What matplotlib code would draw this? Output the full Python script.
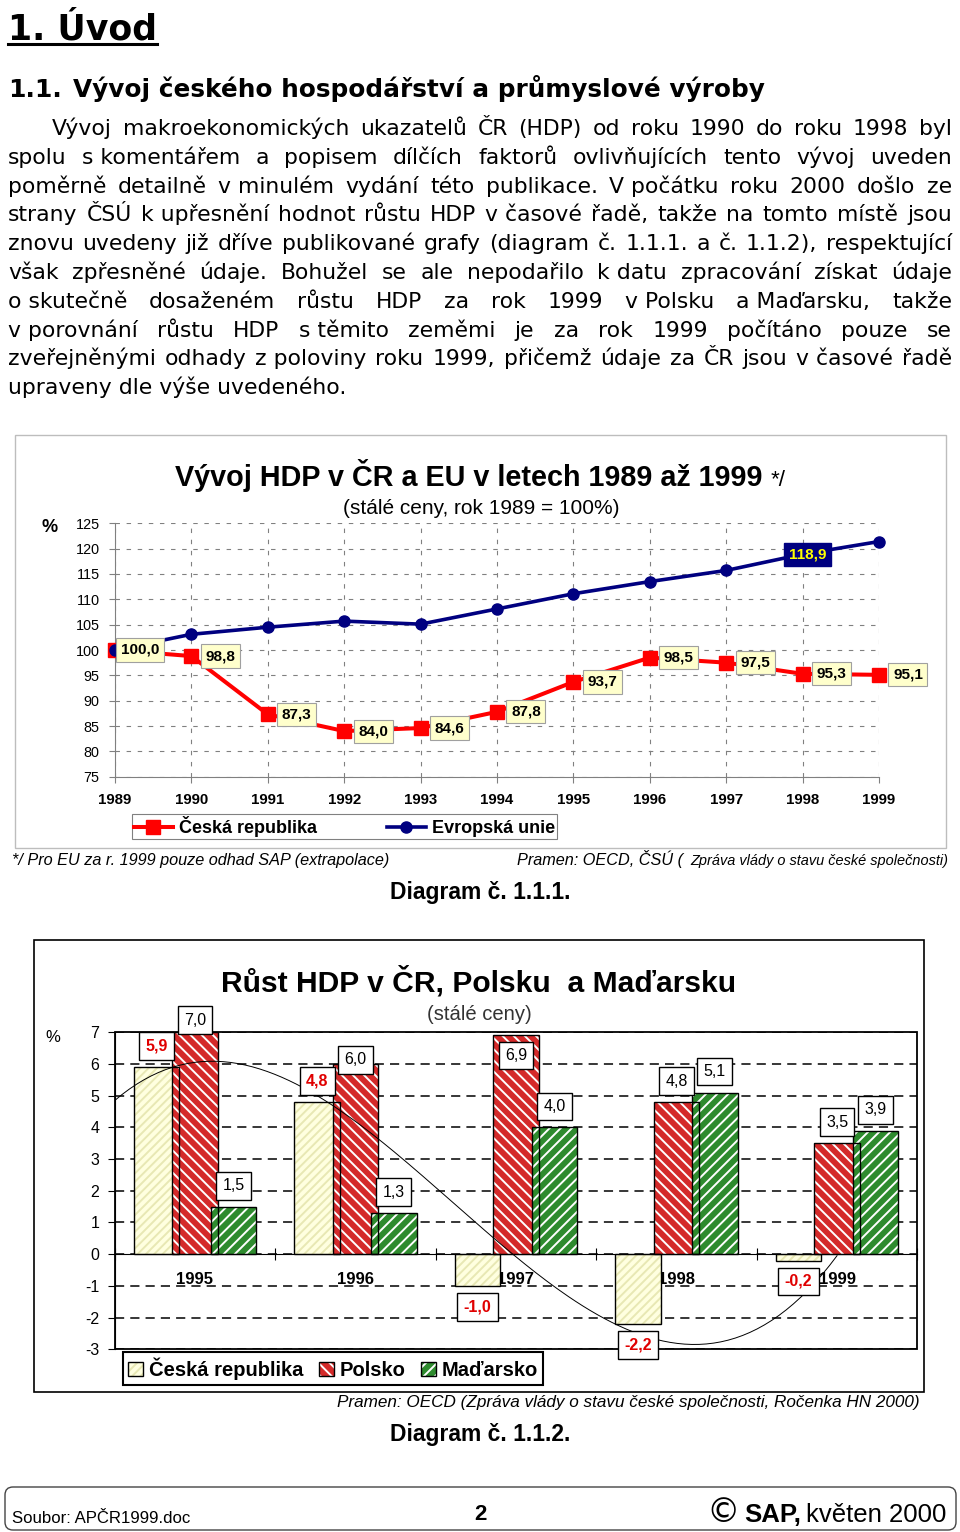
"""Page 2 of APČR1999: intro text, HDP index chart and growth bar chart."""

import numpy as np
import matplotlib
matplotlib.use("Agg")
import matplotlib.pyplot as plt
from matplotlib.patches import Patch, Rectangle, FancyBboxPatch
from matplotlib.legend_handler import HandlerTuple

plt.rcParams["font.family"] = "Liberation Sans"
plt.rcParams["axes.unicode_minus"] = False
plt.rcParams["hatch.linewidth"] = 1.4

BODY = "DejaVu Sans"

# --- Diagram 1.1.1: HDP index, 1989 = 100 ---
years = [1989, 1990, 1991, 1992, 1993, 1994, 1995, 1996, 1997, 1998, 1999]
cz_index = [100.0, 98.8, 87.3, 84.0, 84.6, 87.8, 93.7, 98.5, 97.5, 95.3, 95.1]
eu_index = [100.0, 103.1, 104.5, 105.7, 105.1, 108.1, 111.1, 113.5, 115.7, 118.9, 121.4]
eu_labelled_year = 1998

# --- Diagram 1.1.2: annual HDP growth ---
growth_years = ["1995", "1996", "1997", "1998", "1999"]
growth_cz = [5.9, 4.8, -1.0, -2.2, -0.2]
growth_pl = [7.0, 6.0, 6.9, 4.8, 3.5]
growth_hu = [1.5, 1.3, 4.0, 5.1, 3.9]
growth_names = ["Česká republika", "Polsko", "Maďarsko"]

# paragraph, line by line as in the document (bound one-letter words kept together)
NB = "\u00a0"
paragraph = [
    ["Vývoj", "makroekonomických", "ukazatelů", "ČR", "(HDP)", "od", "roku", "1990", "do", "roku", "1998", "byl"],
    ["spolu", "s" + NB + "komentářem", "a", "popisem", "dílčích", "faktorů", "ovlivňujících", "tento", "vývoj", "uveden"],
    ["poměrně", "detailně", "v" + NB + "minulém", "vydání", "této", "publikace.", "V" + NB + "počátku", "roku", "2000", "došlo", "ze"],
    ["strany", "ČSÚ", "k" + NB + "upřesnění", "hodnot", "růstu", "HDP", "v" + NB + "časové", "řadě,", "takže", "na", "tomto", "místě", "jsou"],
    ["znovu", "uvedeny", "již", "dříve", "publikované", "grafy", "(diagram", "č.", "1.1.1.", "a", "č.", "1.1.2),", "respektující"],
    ["však", "zpřesněné", "údaje.", "Bohužel", "se", "ale", "nepodařilo", "k" + NB + "datu", "zpracování", "získat", "údaje"],
    ["o" + NB + "skutečně", "dosaženém", "růstu", "HDP", "za", "rok", "1999", "v" + NB + "Polsku", "a" + NB + "Maďarsku,", "takže"],
    ["v" + NB + "porovnání", "růstu", "HDP", "s" + NB + "těmito", "zeměmi", "je", "za", "rok", "1999", "počítáno", "pouze", "se"],
    ["zveřejněnými", "odhady", "z" + NB + "poloviny", "roku", "1999,", "přičemž", "údaje", "za", "ČR", "jsou", "v" + NB + "časové", "řadě"],
    ["upraveny dle výše uvedeného."],
]


def fmt(v):
    return f"{v:.1f}".replace(".", ",")


W, H = 960, 1532
fig = plt.figure(figsize=(W / 100, H / 100), dpi=100)
page = fig.add_axes([0, 0, 1, 1])
page.set_xlim(0, W)
page.set_ylim(H, 0)
page.axis("off")
renderer = fig.canvas.get_renderer()


def width_of(t):
    return t.get_window_extent(renderer).width


def put(x, y, s, fit=None, **kw):
    kw.setdefault("va", "baseline")
    t = page.text(x, y, s, **kw)
    if fit:
        for _ in range(2):
            t.set_fontsize(t.get_fontsize() * fit / width_of(t))
    return t


def rect(left, top, right, bottom):
    return [left / W, 1 - bottom / H, (right - left) / W, (bottom - top) / H]


# --- headings and text ---
h1 = put(8, 39, "1. Úvod", fit=149, family=BODY, fontweight="bold", fontsize=25)
page.plot([8, 8 + width_of(h1)], [44, 44], color="black", lw=2.2)
put(8, 97, "1.1.", fit=54, family=BODY, fontweight="bold", fontsize=16)
put(73, 97, "Vývoj českého hospodářství a průmyslové výroby", fit=692,
    family=BODY, fontweight="bold", fontsize=16)

probe = put(0, 0, "upraveny dle výše uvedeného.", fit=338, family=BODY, fontsize=16)
body_size = probe.get_fontsize()
probe.remove()

line_gap = 28.8
for i, tokens in enumerate(paragraph):
    y = 135 + i * line_gap
    x0 = 52 if i == 0 else 8
    if len(tokens) == 1:
        put(x0, y, tokens[0], family=BODY, fontsize=body_size)
        continue
    parts = [put(0, y, tok, family=BODY, fontsize=body_size) for tok in tokens]
    widths = [width_of(p) for p in parts]
    gap = (952 - x0 - sum(widths)) / (len(parts) - 1)
    x = x0
    for p, w in zip(parts, widths):
        p.set_x(x)
        x += w + gap

# --- Diagram 1.1.1 ---
page.add_patch(Rectangle((15, 435), 931, 413, fill=False, ec="#BDBDBD", lw=1))
put(175, 486, "Vývoj HDP v ČR a EU v letech 1989 až 1999", fit=587, fontweight="bold", fontsize=20)
put(771, 486, "*/", fit=15, fontsize=14)
put(343, 514, "(stálé ceny, rok 1989 = 100%)", fit=276, fontsize=13)
put(50, 532, "%", ha="center", fontweight="bold", fontsize=13)

ax1 = fig.add_axes(rect(115, 523.3, 879, 776.7))
cz_line, = ax1.plot(years, cz_index, color="#FF0000", lw=2.9, marker="s", ms=9.5,
                    label="Česká republika", zorder=3, clip_on=False)
eu_line, = ax1.plot(years, eu_index, color="#000080", lw=2.6, marker="o", ms=8,
                    label="Evropská unie", zorder=4, clip_on=False)
ax1.set_xlim(years[0], years[-1])
ax1.set_ylim(75, 125)
ax1.set_yticks(range(75, 126, 5))
ax1.set_xticks(years, [str(y) for y in years], fontweight="bold", fontsize=10.8)
ax1.tick_params(axis="y", labelsize=10.4, pad=7)
ax1.tick_params(axis="x", pad=8)
ax1.tick_params(axis="both", colors="#808080", labelcolor="black", length=4)
ax1.grid(True, color="#808080", lw=0.8, linestyle=(0, (4, 6)))
for side in ("top", "right"):
    ax1.spines[side].set_visible(False)
for side in ("left", "bottom"):
    ax1.spines[side].set_color("#808080")

for i, (yr, v) in enumerate(zip(years, cz_index)):
    ax1.annotate(fmt(v), (yr, v), xytext=(6 if i == 0 else 14, 0), textcoords="offset pixels",
                 ha="left", va="center", fontsize=11, fontweight="bold", zorder=6,
                 bbox=dict(boxstyle="square,pad=0.3", fc="#FFFFCC", ec="#A0A0A0", lw=0.8))
k = years.index(eu_labelled_year)
ax1.annotate(fmt(eu_index[k]), (years[k], eu_index[k]), xytext=(5, 0), textcoords="offset pixels",
             ha="center", va="center", fontsize=11, fontweight="bold", color="#FFFF00", zorder=6,
             bbox=dict(boxstyle="square,pad=0.3", fc="#000080", ec="#000080"))

leg1 = ax1.legend(handles=[cz_line, eu_line], ncol=2, mode="expand", loc="lower left",
                  bbox_to_anchor=(131.7 / W, 1 - 839 / H, 425 / W, 22 / H),
                  bbox_transform=fig.transFigure, borderaxespad=0,
                  prop=dict(weight="bold", size=13), fancybox=False, framealpha=1,
                  edgecolor="#808080", borderpad=0.1, handlelength=2.2, handletextpad=0.3)
leg1.get_frame().set_linewidth(0.8)

put(12, 865, "*/ Pro EU za r. 1999 pouze odhad SAP (extrapolace)", fit=380, fontstyle="italic", fontsize=11)
put(517, 865, "Pramen: OECD, ČSÚ (", fit=167, fontstyle="italic", fontsize=11)
put(948, 865, "Zpráva vlády o stavu české společnosti)", fit=258, ha="right", fontstyle="italic", fontsize=9)
put(480, 899, "Diagram č. 1.1.1.", fit=180, ha="center", fontweight="bold", fontsize=16)

# --- Diagram 1.1.2 ---
page.add_patch(Rectangle((34, 940), 890, 452, fill=False, ec="black", lw=1.2))
put(479, 992, "Růst HDP v ČR, Polsku  a Maďarsku", fit=513, ha="center", fontweight="bold", fontsize=20)
put(479, 1020, "(stálé ceny)", fit=105, ha="center", fontsize=13, color="#333333")
put(53, 1042, "%", ha="center", fontsize=12)

ax2 = fig.add_axes(rect(114.7, 1032.3, 917.3, 1349.3))
# category axis crosses at zero (moving the spine resets ticks, so do it first)
ax2.spines["bottom"].set_position(("data", 0))
for side in ("top", "right"):
    ax2.spines[side].set_visible(False)

xc = np.arange(1, len(growth_years) + 1)
step, bw = 0.239, 0.283
styles = [("#FFFFE0", "#E8E8B4", "////"), ("#D42A2A", "white", "\\\\\\"), ("#2E8B2E", "white", "///")]
all_series = [growth_cz, growth_pl, growth_hu]
for s, (vals, (fc, hc, hatch)) in enumerate(zip(all_series, styles)):
    xs = xc + (s - 1) * step
    ax2.bar(xs, vals, bw, color=fc, edgecolor=hc, hatch=hatch, linewidth=0, zorder=2)
    ax2.bar(xs, vals, bw, facecolor="none", edgecolor="black", linewidth=1.0, zorder=2.1)

# polynomial trend of the Czech series
coef = np.polyfit(xc, growth_cz, 3)
xt = np.linspace(0.5, xc[-1], 200)
ax2.plot(xt, np.polyval(coef, xt), color="black", lw=0.7, zorder=3)

# value labels: above positive bars, below negative ones, some moved by hand
label_shift = {(0, 1): 0.38, (1, 1): 0.13, (2, 1): -0.63}
for s, vals in enumerate(all_series):
    for i, v in enumerate(vals):
        dy = label_shift.get((i, s), 0.66 if v >= 0 else -0.66)
        czech = s == 0
        ax2.text(xc[i] + (s - 1) * step, v + dy, fmt(v), ha="center", va="center",
                 fontsize=11.5, fontweight="bold" if czech else "normal",
                 color="#E00000" if czech else "black", zorder=8,
                 bbox=dict(boxstyle="square,pad=0.4", fc="white", ec="black", lw=1))

ax2.set_xlim(0.5, len(growth_years) + 0.5)
ax2.set_ylim(-3, 7)
ax2.set_yticks(range(-3, 8))
ax2.tick_params(axis="y", direction="out", length=5, pad=6, labelsize=11.5)
ax2.set_xticks(np.arange(0.5, len(growth_years) + 1, 1))
ax2.tick_params(axis="x", which="major", direction="inout", length=9, labelbottom=False)
ax2.tick_params(axis="x", which="minor", length=0, pad=13)
ax2.set_xticks(xc, growth_years, minor=True, fontweight="bold", fontsize=12)
ax2.yaxis.grid(True, color="black", lw=1.1, linestyle=(0, (6, 4)))
ax2.set_axisbelow(True)
ax2.add_patch(Rectangle((0, 0), 1, 1, transform=ax2.transAxes, fill=False, ec="black",
                        lw=1.3, clip_on=False, zorder=6))

swatches = [(Patch(facecolor=fc, edgecolor=hc, hatch=hatch, linewidth=0),
             Patch(facecolor="none", edgecolor="black", linewidth=1))
            for fc, hc, hatch in styles]
leg2 = ax2.legend(handles=swatches, labels=growth_names, handler_map={tuple: HandlerTuple(ndivide=1)},
                  ncol=3, mode="expand", loc="lower left",
                  bbox_to_anchor=(123 / W, 1 - 1385 / H, 420 / W, 30 / H),
                  bbox_transform=fig.transFigure, borderaxespad=0,
                  prop=dict(weight="bold", size=14.5), fancybox=False, framealpha=1,
                  edgecolor="black", borderpad=0.25, handlelength=0.75, handleheight=0.75,
                  handletextpad=0.3, columnspacing=0.8)
leg2.get_frame().set_linewidth(1.5)

put(920, 1407, "Pramen: OECD (Zpráva vlády o stavu české společnosti, Ročenka HN 2000)", fit=583,
    ha="right", fontstyle="italic", fontsize=12)
put(480, 1441, "Diagram č. 1.1.2.", fit=180, ha="center", fontweight="bold", fontsize=16)

# --- footer ---
page.add_patch(FancyBboxPatch((5, 1487), 951, 43, boxstyle="round,pad=0,rounding_size=8",
                              fill=False, ec="#444444", lw=1))
put(12, 1523, "Soubor: APČR1999.doc", fit=178, fontsize=11)
put(480, 1520, "2", ha="center", fontweight="bold", fontsize=16)
put(946, 1522, "květen 2000", fit=140, ha="right", fontsize=18)
put(801, 1522, "SAP,", ha="right", fontweight="bold", fontsize=18.5)
put(740, 1522, "©", ha="right", family=BODY, fontsize=24)

fig.savefig("out.png", dpi=100)
